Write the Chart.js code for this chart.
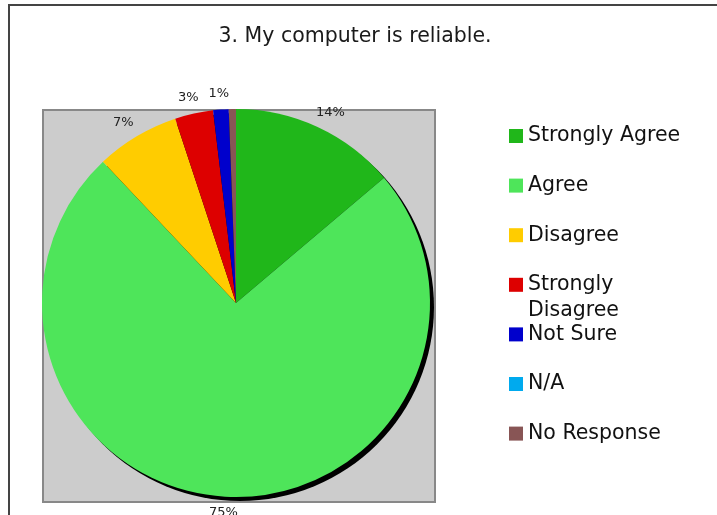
<!DOCTYPE html>
<html>
<head>
<meta charset="utf-8">
<script src="https://cdn.jsdelivr.net/npm/chart.js@4/dist/chart.umd.min.js"></script>
<style>
  html, body { margin: 0; padding: 0; background: #fff; }
  #wrap { width: 717px; height: 515px; position: relative; }
</style>
</head>
<body>
<div id="wrap"><canvas id="chart" width="717" height="515"></canvas></div>
<script>
const titleText = "3. My computer is reliable.";
const categories = ["Strongly Agree", "Agree", "Disagree", "Strongly Disagree", "Not Sure", "N/A", "No Response"];
const legendLines = [["Strongly Agree"], ["Agree"], ["Disagree"], ["Strongly", "Disagree"], ["Not Sure"], ["N/A"], ["No Response"]];
const percentValues = [13.9, 74.6, 7.0, 3.2, 1.3, 0, 0.6];
const sliceColors = ["#20b71a", "#4ee55a", "#ffcc00", "#dd0000", "#0000cc", "#00aaee", "#885555"];

const FONT = "'DejaVu Sans', Verdana, sans-serif";

// frame, gray plot box, title, pie shadow, slice labels and legend
const backdrop = {
  id: "backdrop",
  beforeDraw(chart) {
    const ctx = chart.ctx;
    ctx.save();
    ctx.fillStyle = "#fff";
    ctx.fillRect(0, 0, chart.width, chart.height);
    ctx.strokeStyle = "#444";
    ctx.lineWidth = 2;
    ctx.strokeRect(9, 5, 730, 530);

    ctx.fillStyle = "#cccccc";
    ctx.fillRect(43, 110, 392, 392);
    ctx.strokeStyle = "#888";
    ctx.lineWidth = 2;
    ctx.strokeRect(43, 110, 392, 392);

    ctx.fillStyle = "#1a1a1a";
    ctx.font = "20.5px " + FONT;
    ctx.textAlign = "center";
    ctx.textBaseline = "middle";
    ctx.fillText(titleText, 355, 37);
    ctx.restore();
  },
  beforeDatasetsDraw(chart) {
    const arc = chart.getDatasetMeta(0).data[0];
    if (!arc) return;
    const ctx = chart.ctx;
    ctx.save();
    ctx.fillStyle = "#000";
    ctx.beginPath();
    ctx.arc(arc.x + 4, arc.y + 4, arc.outerRadius, 0, Math.PI * 2);
    ctx.fill();
    ctx.restore();
  },
  afterDatasetsDraw(chart) {
    const ctx = chart.ctx;
    const meta = chart.getDatasetMeta(0);
    ctx.save();
    ctx.fillStyle = "#222";
    ctx.font = "13px " + FONT;
    ctx.textAlign = "center";
    ctx.textBaseline = "middle";
    meta.data.forEach((arc, i) => {
      const v = percentValues[i];
      if (v < 1) return;
      const txt = Math.round(v) + "%";
      const w = ctx.measureText(txt).width;
      const mid = (arc.startAngle + arc.endAngle) / 2;
      const r = arc.outerRadius + 16;
      const cx = arc.x + Math.cos(mid) * r + Math.cos(mid) * w / 2;
      const cy = arc.y + Math.sin(mid) * r;
      ctx.fillText(txt, cx, cy);
    });

    // legend
    ctx.textAlign = "left";
    ctx.font = "20.5px " + FONT;
    legendLines.forEach((lines, i) => {
      const y = 136 + i * 49.6;
      ctx.fillStyle = sliceColors[i];
      ctx.fillRect(509, y - 7, 14, 14);
      ctx.fillStyle = "#111";
      lines.forEach((t, j) => ctx.fillText(t, 528, y + j * 25.5));
    });
    ctx.restore();
  }
};

new Chart(document.getElementById("chart"), {
  type: "pie",
  data: {
    labels: categories,
    datasets: [{
      data: percentValues,
      backgroundColor: sliceColors,
      borderWidth: 0
    }]
  },
  options: {
    responsive: false,
    animation: false,
    layout: { padding: { left: 42, right: 287, top: 109, bottom: 18 } },
    plugins: {
      legend: { display: false },
      tooltip: { enabled: false },
      title: { display: false }
    }
  },
  plugins: [backdrop]
});
</script>
</body>
</html>
